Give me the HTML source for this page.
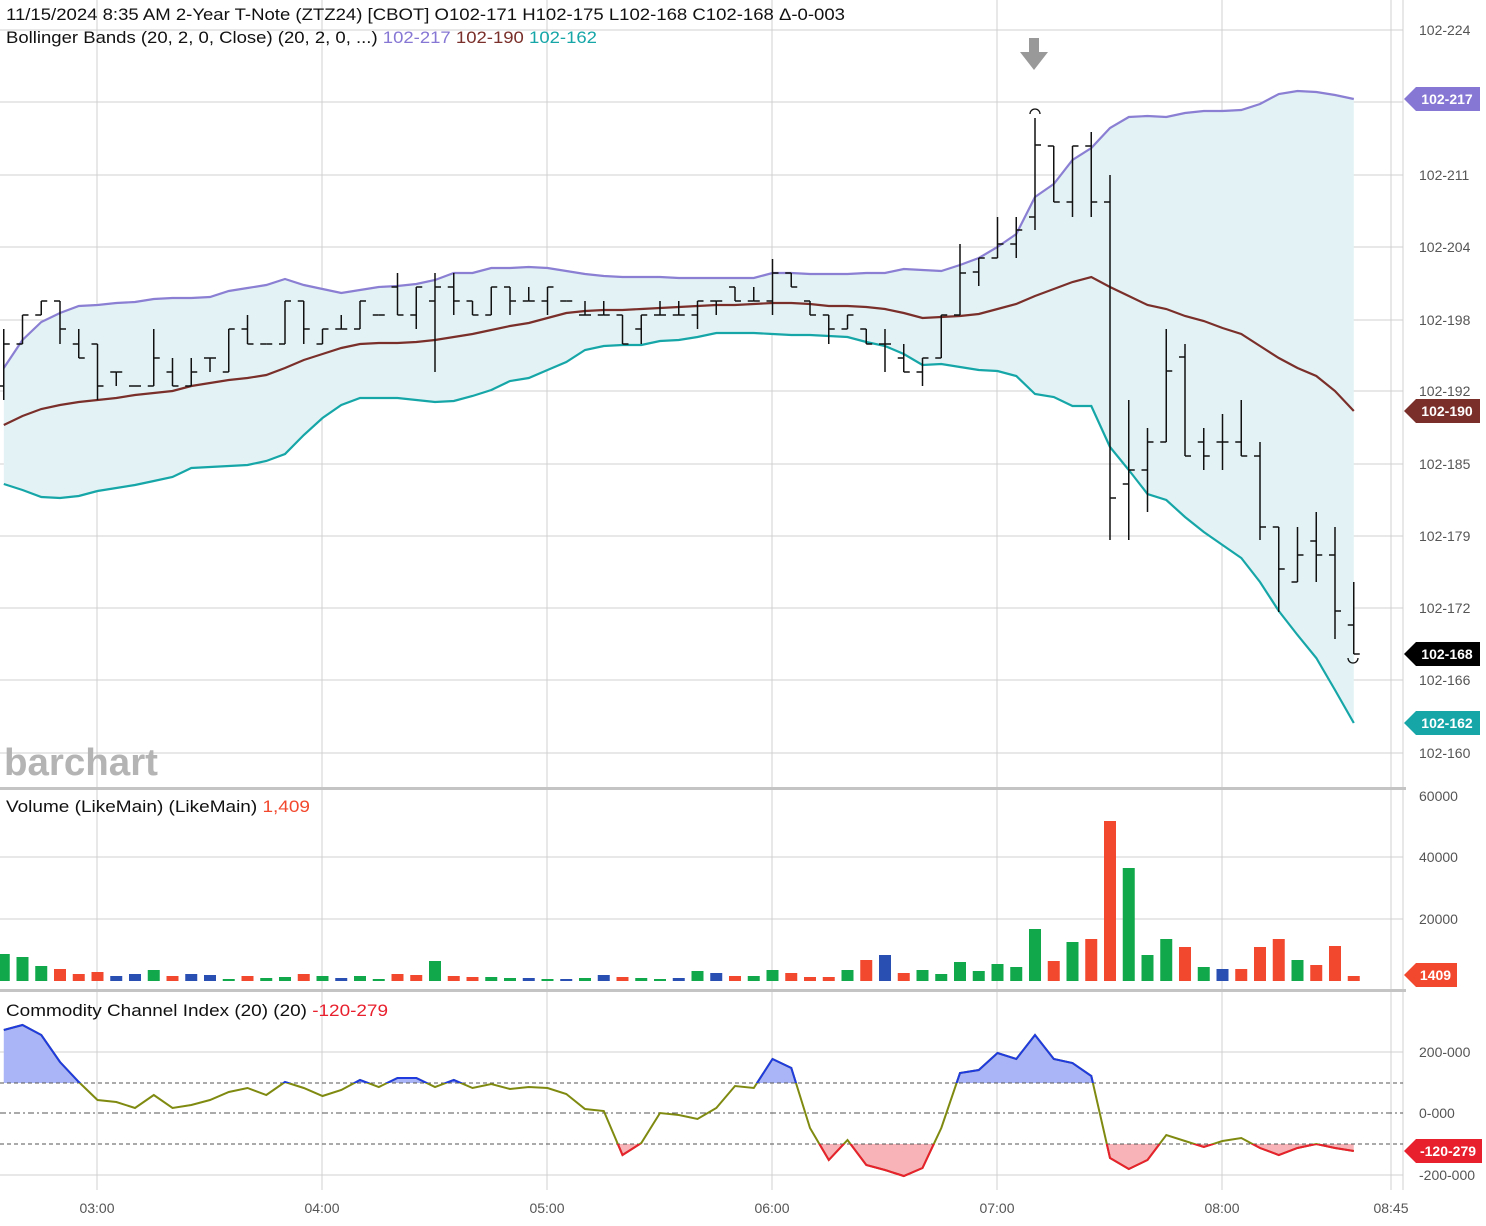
<!DOCTYPE html>
<html><head><meta charset="utf-8"><style>
html,body{margin:0;padding:0;background:#fff;}
svg{display:block;font-family:"Liberation Sans",sans-serif;}
</style></head><body>
<svg id="s" width="1486" height="1226" xmlns="http://www.w3.org/2000/svg"></svg>
<script>
const S=document.getElementById('s');let h='';
const X=i=>3.75+18.75*i;
h+='<defs><clipPath id="cu"><rect x="0" y="990" width="1403" height="93"/></clipPath><clipPath id="cd"><rect x="0" y="1144" width="1403" height="60"/></clipPath></defs>';
[30,102,175,247,320,391,464,536,608,680,753,857,919,1052,1175].forEach(y=>h+=`<line x1="0" x2="1403" y1="${y}" y2="${y}" stroke="#d0d0d0" stroke-width="1"/>`);
[97,322,547,772,997,1222,1391].forEach(x=>h+=`<line x1="${x}" x2="${x}" y1="0" y2="1190" stroke="#d0d0d0" stroke-width="1"/>`);
h+='<line x1="1403" x2="1403" y1="0" y2="1190" stroke="#d0d0d0"/>';
const up=[368,340,322,313,306,305,303,302,299,298,298,297,291,288,285,279,285,289,293,290,287,286,284,280,273,273,268,268,267,268,271,274,276,277,277,277,278,278,278,278,278,273,273,274,274,274,273,273,269,270,271,265,258,247,234,197,184,160,148,128,117,116,117,113,111,111,110,104,94,91,92,95,99];
const md=[425,416,409,405,402,400,398,395,393,391,386,383,380,378,375,368,360,354,348,344,343,343,342,340,337,334,330,326,323,318,313,311,310,310,309,308,307,306,305,305,304,303,303,304,306,306,307,309,313,318,317,316,314,309,304,296,289,282,277,287,296,305,309,316,321,328,334,346,358,368,376,391,411];
const lo=[484,490,497,498,496,491,488,485,481,477,468,467,466,465,461,454,435,418,405,398,398,398,400,402,401,396,390,381,378,370,362,350,346,345,345,341,340,337,333,333,333,334,335,335,336,337,342,346,354,365,364,367,370,371,376,394,397,406,406,447,470,494,500,517,532,545,558,582,611,635,658,690,723];
const pts=a=>a.map((y,i)=>X(i).toFixed(1)+','+y).join(' ');
const lor=lo.map((y,i)=>X(i).toFixed(1)+','+y).reverse().join(' ');
h+=`<polygon points="${pts(up)} ${lor}" fill="#e3f3f5"/>`;
h+=`<polyline points="${pts(up)}" fill="none" stroke="#8a7fd3" stroke-width="2.2"/>`;
h+=`<polyline points="${pts(md)}" fill="none" stroke="#7a2f2a" stroke-width="2.2"/>`;
h+=`<polyline points="${pts(lo)}" fill="none" stroke="#16a6a8" stroke-width="2.2"/>`;
const B=[[386,329,400,344],[344,315,344,315],[315,301,315,301],[301,301,344,329],[344,329,358,358],[344,344,400,386],[372,372,386,372],[386,386,386,386],[386,329,386,358],[372,358,386,386],[386,358,386,372],[358,358,372,358],[372,329,372,329],[329,315,344,344],[344,344,344,344],[344,301,344,301],[301,301,344,329],[344,329,344,329],[329,315,329,329],[329,301,329,301],[315,315,315,315],[287,273,315,315],[315,287,329,287],[301,273,372,287],[287,273,315,301],[301,301,315,315],[315,287,315,287],[287,287,315,301],[301,287,301,301],[301,287,315,287],[301,301,301,301],[315,301,315,315],[315,301,315,315],[315,315,344,344],[329,315,344,315],[315,301,315,315],[315,301,315,315],[315,301,329,301],[301,301,315,301],[287,287,301,301],[301,287,301,301],[301,259,315,273],[273,273,287,287],[301,301,315,315],[315,315,344,329],[329,315,329,315],[329,329,344,344],[344,329,372,344],[358,344,372,372],[372,358,386,358],[358,315,358,315],[315,244,315,273],[272,258,286,258],[258,217,258,244],[244,217,258,230],[217,118,230,145],[146,146,202,202],[202,146,217,146],[146,132,217,202],[202,175,540,498],[484,400,540,470],[470,428,512,442],[442,329,442,371],[357,344,456,456],[442,428,470,456],[442,414,470,442],[442,400,456,456],[456,442,540,527],[527,527,612,569],[582,527,582,555],[541,512,582,555],[555,527,639,611],[625,582,654,654]];
B.forEach((b,i)=>{const x=X(i);h+=`<line x1="${x}" x2="${x}" y1="${b[1]}" y2="${b[2]}" stroke="#111" stroke-width="1.5"/><line x1="${x-6}" x2="${x}" y1="${b[0]}" y2="${b[0]}" stroke="#111" stroke-width="1.5"/><line x1="${x}" x2="${x+6}" y1="${b[3]}" y2="${b[3]}" stroke="#111" stroke-width="1.5"/>`;});
h+='<path d="M1030,114 A5,5 0 0 1 1040,114" fill="none" stroke="#111" stroke-width="1.3"/><path d="M1348,658 A5,5 0 0 0 1358,658" fill="none" stroke="#111" stroke-width="1.3"/>';
h+='<polygon points="1029,38 1039,38 1039,52 1048,52 1034,70 1020,52 1029,52" fill="#999"/>';
h+='<rect x="0" y="787" width="1406" height="3" fill="#c4c4c4"/><rect x="0" y="989" width="1406" height="3" fill="#c4c4c4"/>';
const V=[[954,'g'],[957,'g'],[966,'g'],[969,'r'],[974,'r'],[972,'r'],[976,'b'],[974,'b'],[970,'g'],[976,'r'],[974,'b'],[975,'b'],[979,'g'],[976,'r'],[978,'g'],[977,'g'],[974,'r'],[976,'g'],[978,'b'],[976,'g'],[979,'g'],[974,'r'],[975,'r'],[961,'g'],[976,'r'],[977,'r'],[977,'g'],[978,'g'],[978,'b'],[979,'g'],[979,'b'],[978,'g'],[975,'b'],[977,'r'],[978,'g'],[979,'g'],[978,'b'],[971,'g'],[973,'b'],[976,'r'],[976,'g'],[970,'g'],[973,'r'],[977,'r'],[977,'r'],[970,'g'],[960,'r'],[955,'b'],[973,'r'],[970,'g'],[974,'g'],[962,'g'],[971,'g'],[964,'g'],[967,'g'],[929,'g'],[961,'r'],[942,'g'],[939,'r'],[821,'r'],[868,'g'],[955,'g'],[939,'g'],[947,'r'],[967,'g'],[969,'b'],[969,'r'],[947,'r'],[939,'r'],[960,'g'],[965,'r'],[946,'r'],[976,'r']];
const C={g:'#11a84c',r:'#f2492e',b:'#2a4fb3'};
V.forEach((v,i)=>{const x=X(i);h+=`<rect x="${x-6}" y="${v[0]}" width="12" height="${981-v[0]}" fill="${C[v[1]]}"/>`;});
const cc=[1030,1025,1035,1062,1082,1100,1102,1108,1095,1108,1105,1100,1092,1088,1095,1082,1088,1096,1090,1080,1087,1078,1078,1087,1080,1088,1084,1089,1087,1088,1094,1109,1111,1155,1143,1113,1115,1119,1108,1086,1088,1059,1068,1128,1160,1140,1165,1170,1176,1168,1128,1073,1070,1053,1059,1035,1059,1063,1076,1158,1169,1160,1135,1141,1147,1141,1138,1148,1155,1148,1144,1148,1151];
const cp=pts(cc);
h+=`<polygon points="${X(0)},1083 ${cp} ${X(72)},1083" fill="#aab5f7" clip-path="url(#cu)"/>`;
h+=`<polygon points="${X(0)},1144 ${cp} ${X(72)},1144" fill="#f8b3b8" clip-path="url(#cd)"/>`;
h+='<line x1="0" x2="1403" y1="1083" y2="1083" stroke="#555" stroke-dasharray="4,3"/><line x1="0" x2="1403" y1="1144" y2="1144" stroke="#555" stroke-dasharray="4,3"/><line x1="0" x2="1403" y1="1113" y2="1113" stroke="#555" stroke-dasharray="6,3,2,3"/>';
h+=`<polyline points="${cp}" fill="none" stroke="#7f8a10" stroke-width="2"/>`;
h+=`<polyline points="${cp}" fill="none" stroke="#1f3be0" stroke-width="2" clip-path="url(#cu)"/>`;
h+=`<polyline points="${cp}" fill="none" stroke="#e8202e" stroke-width="2" clip-path="url(#cd)"/>`;
const T=(x,y,t,c='#555',s=14,a='start',w='normal',tl='')=>h+=`<text x="${x}" y="${y}" fill="${c}" font-size="${s}" text-anchor="${a}" font-weight="${w}" ${tl?`textLength="${tl}" lengthAdjust="spacingAndGlyphs"`:''}>${t}</text>`;
[[30,'102-224'],[175,'102-211'],[247,'102-204'],[320,'102-198'],[391,'102-192'],[464,'102-185'],[536,'102-179'],[608,'102-172'],[680,'102-166'],[753,'102-160']].forEach(a=>T(1419,a[0]+5,a[1]));
[[796,'60000'],[857,'40000'],[919,'20000']].forEach(a=>T(1419,a[0]+5,a[1]));
[[1052,'200-000'],[1113,'0-000'],[1175,'-200-000']].forEach(a=>T(1419,a[0]+5,a[1]));
[[97,'03:00'],[322,'04:00'],[547,'05:00'],[772,'06:00'],[997,'07:00'],[1222,'08:00'],[1391,'08:45']].forEach(a=>T(a[0],1213,a[1],'#555',14,'middle'));
const tag=(y,t,c,w=76)=>{h+=`<polygon points="1404,${y} 1416,${y-12} ${1404+w},${y-12} ${1404+w},${y+12} 1416,${y+12}" fill="${c}"/>`;T(1404+w/2+5,y+5,t,'#fff',14,'middle','bold');};
tag(99,'102-217','#8677d4');tag(411,'102-190','#7a2f2a');tag(654,'102-168','#000');tag(723,'102-162','#16a6a8');tag(975,'1409','#f2492e',53);tag(1151,'-120-279','#e8202e',78);
T(6,20,'11/15/2024 8:35 AM 2-Year T-Note (ZTZ24) [CBOT] O102-171 H102-175 L102-168 C102-168 Δ-0-003','#111',17,'start','normal',839);
h+=`<text x="6" y="43" font-size="17" fill="#111" textLength="591" lengthAdjust="spacingAndGlyphs">Bollinger Bands (20, 2, 0, Close)  (20, 2, 0, ...) <tspan fill="#8677d4">102-217</tspan> <tspan fill="#7a2f2a">102-190</tspan> <tspan fill="#16a6a8">102-162</tspan></text>`;
h+=`<text x="6" y="812" font-size="17" fill="#111" textLength="304" lengthAdjust="spacingAndGlyphs">Volume (LikeMain)  (LikeMain) <tspan fill="#f2492e">1,409</tspan></text>`;
h+=`<text x="6" y="1016" font-size="17" fill="#111" textLength="382" lengthAdjust="spacingAndGlyphs">Commodity Channel Index (20)  (20) <tspan fill="#e8202e">-120-279</tspan></text>`;
T(4,775,'barchart','#b4b4b4',38,'start','bold','154');
S.innerHTML=h;
</script>
</body></html>
